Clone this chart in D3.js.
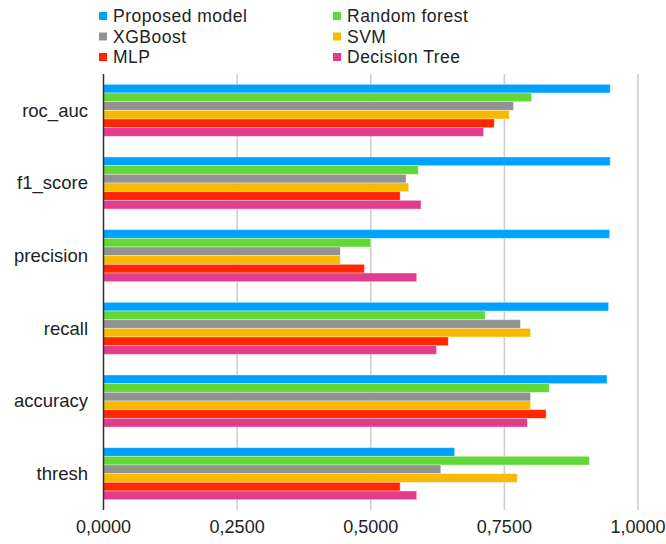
<!DOCTYPE html>
<html>
<head>
<meta charset="utf-8">
<script src="https://cdn.jsdelivr.net/npm/d3@7"></script>
<style>
  body { margin: 0; background: #fff; }
  text { font-family: "Liberation Sans", Arial, sans-serif; fill: #222; }
</style>
</head>
<body>
<svg id="chart" width="666" height="544"></svg>
<script>
// metrics, top to bottom
const metrics = ["roc_auc", "f1_score", "precision", "recall", "accuracy", "thresh"];
const models = ["Proposed model", "Random forest", "XGBoost", "SVM", "MLP", "Decision Tree"];
const colors = ["#00a2ff", "#61d836", "#929292", "#f8ba00", "#ff2600", "#e43c8c"];
const ticks = [0, 0.25, 0.5, 0.75, 1.0];

const proposed = [0.948, 0.948, 0.947, 0.945, 0.942, 0.657];
const randomForest = [0.801, 0.589, 0.500, 0.714, 0.834, 0.909];
const xgboost = [0.767, 0.566, 0.443, 0.780, 0.799, 0.631];
const svm = [0.759, 0.571, 0.443, 0.799, 0.799, 0.774];
const mlp = [0.731, 0.555, 0.488, 0.645, 0.828, 0.555];
const decisionTree = [0.711, 0.594, 0.586, 0.623, 0.793, 0.586];

const series = [proposed, randomForest, xgboost, svm, mlp, decisionTree];

let svg = d3.select("#chart");
let mLeft = 103.5, mRight = 638, mTop = 74, mBottom = 510;

let x = d3.scaleLinear().domain([0, 1]).range([mLeft, mRight]);
let y = d3.scaleBand().domain(metrics).range([mTop, mBottom]);
let inner = d3.scaleBand().domain(d3.range(models.length))
  .range([0, y.bandwidth()]).paddingOuter(1.19);

// grid
svg.append("g")
  .selectAll("line")
  .data(ticks.slice(1))
  .join("line")
  .attr("x1", d => x(d)).attr("x2", d => x(d))
  .attr("y1", mTop).attr("y2", mBottom)
  .attr("stroke", "#cccccc")
  .attr("stroke-width", 1.5);

// bars
let groups = svg.append("g")
  .selectAll("g")
  .data(metrics)
  .join("g")
  .attr("transform", d => `translate(0,${y(d)})`);

groups.selectAll("rect")
  .data((m, i) => series.map((s, j) => ({ v: s[i], j: j })))
  .join("rect")
  .attr("x", x(0))
  .attr("y", d => inner(d.j))
  .attr("width", d => x(d.v) - x(0))
  .attr("height", inner.bandwidth())
  .attr("fill", d => colors[d.j])
  .attr("stroke", "#fff")
  .attr("stroke-opacity", 0.45)
  .attr("stroke-width", 0.8);

// axis line
svg.append("line")
  .attr("x1", mLeft).attr("x2", mLeft)
  .attr("y1", mTop).attr("y2", mBottom)
  .attr("stroke", "#333")
  .attr("stroke-width", 1.5);

// category labels
svg.append("g")
  .selectAll("text")
  .data(metrics)
  .join("text")
  .attr("x", 88)
  .attr("y", d => y(d) + y.bandwidth() / 2)
  .attr("dy", "0.35em")
  .attr("text-anchor", "end")
  .style("font-size", "18.5px")
  .text(d => d);

// tick labels
let fmt = d => d3.format(".4f")(d).replace(".", ",");
svg.append("g")
  .selectAll("text")
  .data(ticks)
  .join("text")
  .attr("x", d => x(d))
  .attr("y", 527)
  .attr("dy", "0.35em")
  .attr("text-anchor", "middle")
  .style("font-size", "18px")
  .text(fmt);

// legend
let legend = svg.append("g")
  .selectAll("g")
  .data(models)
  .join("g")
  .attr("transform", (d, i) => `translate(${i % 2 ? 333 : 99},${16 + Math.floor(i / 2) * 20.5})`);

legend.append("rect")
  .attr("x", 0).attr("y", -4)
  .attr("width", 8).attr("height", 8)
  .attr("fill", (d, i) => colors[i]);

legend.append("text")
  .attr("x", 14)
  .attr("dy", "0.35em")
  .style("font-size", "17.5px")
  .style("letter-spacing", "0.5px")
  .text(d => d);
</script>
</body>
</html>
